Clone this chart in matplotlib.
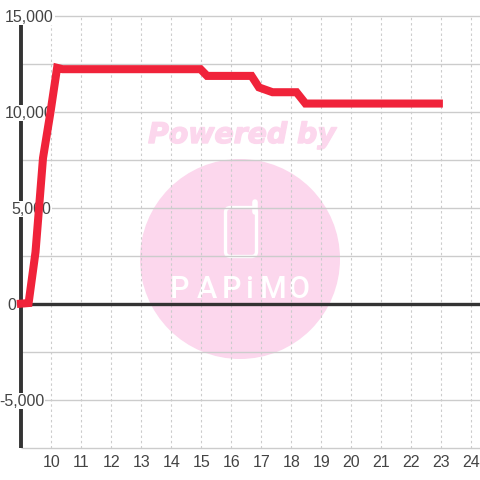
# -*- coding: utf-8 -*-
import matplotlib
matplotlib.use("Agg")
import matplotlib.pyplot as plt
import matplotlib.patheffects as pe
from matplotlib.patches import Circle, FancyBboxPatch
from matplotlib.transforms import blended_transform_factory

# chart values
line_x = [8.88, 9.27, 9.5, 9.75, 10.0, 10.22, 10.4, 15.0, 15.22, 16.7, 16.95, 17.4, 18.2, 18.5, 23.08]
line_y = [0, 50, 2700, 7600, 10000, 12300, 12230, 12230, 11880, 11880, 11280, 11030, 11030, 10440, 10440]
x_ticks = list(range(10, 25))
y_ticks = [15000, 12500, 10000, 7500, 5000, 2500, 0, -2500, -5000, -7500]
y_labels = [15000, 10000, 5000, 0, -5000]
y_label_px = [29.5, 29.5, 31, 12, 22]

# colours
red = "#f0233a"
pink = "#fcd7ed"
grid_col = "#cccccc"
dark = "#333333"
text_col = "#444444"

plt.rcParams['font.family'] = ['Liberation Sans', 'DejaVu Sans']

fig = plt.figure(figsize=(4.8, 4.8), dpi=100, facecolor="white")

# watermark sits behind the chart, in pixel coordinates
bg = fig.add_axes([0, 0, 1, 1], zorder=0)
bg.set_xlim(0, 480)
bg.set_ylim(480, 0)
bg.axis("off")
bg.add_patch(Circle((240, 259), 100, color=pink, lw=0))
bg.text(242, 135, "Powered by", color=pink, fontsize=20.4, fontweight="bold", fontstyle="italic",
        family="DejaVu Sans", ha="center", va="center",
        path_effects=[pe.withStroke(linewidth=1, foreground=pink)])
bg.add_patch(FancyBboxPatch((225.5, 207.5), 31, 49, boxstyle="round,pad=0,rounding_size=5",
                            fc="none", ec="white", lw=2.4))
bg.plot([255, 255], [202, 212], color="white", lw=4, solid_capstyle="round")
for letter, px in zip("PAPiMO", [180, 206.5, 231.5, 249, 273, 298.5]):
    bg.text(px, 289, letter, color="white", fontsize=22, family="Roboto", fontweight="medium",
            ha="center", va="center")

ax = fig.add_axes([0, 0, 1, 1], zorder=1)
ax.patch.set_alpha(0)
ax.set_xlim(9 - 20.5 / 30, 9 + 459.5 / 30)
ax.set_ylim(-(480 - 304) / 19.2 * 1000, 304 / 19.2 * 1000)
for s in ax.spines.values():
    s.set_visible(False)
ax.set_xticks([])
ax.set_yticks([])

left = 9.0
right = ax.get_xlim()[1]
for v in y_ticks:
    ax.plot([left, right], [v, v], color=grid_col, lw=1, zorder=1, solid_capstyle="butt")
for v in x_ticks:
    ax.plot([v + 0.015, v + 0.015], [-7500, 15000], color=grid_col, lw=0.8, ls=(0, (2.2, 2.5)), zorder=1)
    ax.text(v + 0.03, -8250, str(v), color=text_col, fontsize=11.5, ha="center", va="center")

# axis lines
ax.plot([left, left], [-7500, 14600], color=dark, lw=2.8, zorder=2, solid_capstyle="butt")
ax.plot([left, right], [0, 0], color=dark, lw=2.4, zorder=2, solid_capstyle="butt")

label_trans = blended_transform_factory(bg.transData, ax.transData)
for v, px in zip(y_labels, y_label_px):
    ax.text(px, v - 70, f"{v:,}", color=text_col, fontsize=11.5, ha="center", va="center", zorder=3,
            transform=label_trans, bbox=dict(fc="white", ec="none", pad=0.5))

ax.plot(line_x, line_y, color=red, lw=5.8, zorder=4, solid_joinstyle="miter", solid_capstyle="butt")

fig.savefig("out.png", dpi=100)
